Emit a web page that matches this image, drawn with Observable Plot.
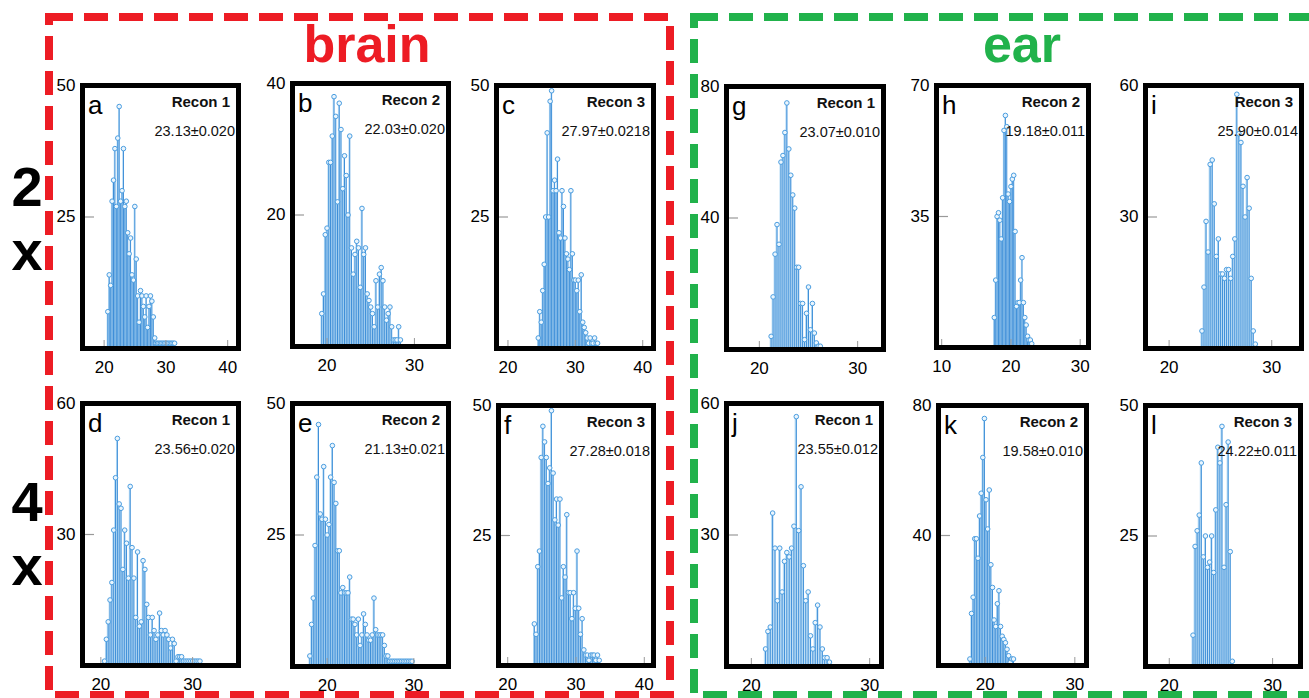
<!DOCTYPE html>
<html>
<head>
<meta charset="utf-8">
<script src="https://cdn.jsdelivr.net/npm/d3@7"></script>
<script src="https://cdn.jsdelivr.net/npm/@observablehq/plot@0.6"></script>
<style>
  html, body { margin: 0; padding: 0; background: #fff; }
  #root { position: relative; width: 1309px; height: 698px; overflow: hidden; background: #fff; font-family: "Liberation Sans", Arial, sans-serif; }
  #root svg.panel { position: absolute; overflow: visible; }
  #overlay { position: absolute; left: 0; top: 0; pointer-events: none; }
</style>
</head>
<body>
<div id="root"></div>
<script>
// ---------------- data ----------------
const panelLetters = ["a", "b", "c", "g", "h", "i", "d", "e", "f", "j", "k", "l"];
const reconLabels = ["Recon 1", "Recon 2", "Recon 3", "Recon 1", "Recon 2", "Recon 3",
                     "Recon 1", "Recon 2", "Recon 3", "Recon 1", "Recon 2", "Recon 3"];
const statLabels = ["23.13±0.020", "22.03±0.020", "27.97±0.0218", "23.07±0.010", "19.18±0.011", "25.90±0.014",
                    "23.56±0.020", "21.13±0.021", "27.28±0.018", "23.55±0.012", "19.58±0.010", "24.22±0.011"];
const yMaxTicks = [50, 40, 50, 80, 70, 60, 60, 50, 50, 60, 80, 50];
const xTickValues = [[20, 30, 40], [20, 30], [20, 30, 40], [20, 30], [10, 20, 30], [20, 30],
                     [20, 30], [20, 30], [20, 30, 40], [20, 30], [20, 30], [20, 30]];
const xDomains = [[16.5, 41.75], [16.05, 33.9], [18.3, 41.6], [16.66, 32.63], [9.25, 31.2], [17.7, 32.9],
                  [18.0, 35.0], [16.0, 34.0], [18.65, 41.35], [17.9, 31.0], [14.8, 31.3], [17.7, 32.7]];
const binStarts = [20.6, 19.4, 24.5, 21.2, 17.6, 23.2, 20.4, 18.0, 23.9, 21.2, 18.3, 22.3];
const binWidths = [0.23, 0.2, 0.22, 0.2, 0.2, 0.2, 0.2, 0.2, 0.25, 0.2, 0.18, 0.2];

const countsA = [7,14,12,28,32,38,27,40,46,28,30,38,27,28,22,18,21,14,13,27,17,10,5,11,10,8,6,10,4,8,10,9,6,2,1,1,1,1,1,1,1,1,1,1,1,1,1,1];
const countsB = [5,8,17,18,28,28,32,38,35,22,37,33,24,29,26,20,32,15,11,14,16,15,9,21,14,15,8,7,6,5,3,10,6,11,12,10,6,4,5,6,3,1,1,1,3,1];
const countsC = [2,7,5,11,16,25,41,25,47,49,30,32,30,36,22,21,30,27,21,18,17,15,30,18,13,13,11,13,7,14,5,4,3,2,1,2,1,1,2,1,1];
const countsG = [4,16,29,38,32,57,59,66,75,61,53,47,43,25,25,14,14,3,11,19,6,14,5,2,1,1];
const countsH = [8,18,35,36,34,29,40,58,62,59,41,39,43,45,46,31,11,12,12,18,24,12,8,6,3,2,2,1];
const countsI = [4,14,29,22,42,43,33,21,25,17,17,16,18,18,16,21,25,58,49,47,37,30,39,32,16,4,1];
const countsD = [1,6,10,15,19,31,43,52,37,36,22,31,28,20,41,27,20,11,26,9,10,24,22,14,11,7,11,8,6,7,12,8,7,8,7,6,4,6,5,1,2,2,2,1,1,1,1,1,1,1,1,1,1];
const countsE = [2,8,13,23,36,46,29,28,38,28,25,27,36,42,35,31,22,22,14,15,14,14,14,17,9,9,8,6,9,4,6,10,8,6,5,5,6,13,7,6,6,6,6,4,2,2,1,1,1,1,1,1,1,1,1,1,1,1,1,1];
const countsF = [8,6,19,22,40,46,43,40,35,38,49,37,28,32,27,32,13,19,17,29,14,14,9,14,11,22,11,6,9,3,2,2,1,2,2,2,1,2,1];
const countsJ = [4,8,9,35,27,15,27,17,24,26,25,27,32,57,31,41,23,15,17,7,4,10,14,9,4,2,2,1];
const countsK = [2,16,21,39,39,33,46,53,64,76,51,42,54,31,24,14,12,19,23,12,9,8,7,5,3,1,2,2];
const countsL = [6,23,26,29,39,21,25,19,20,25,18,30,42,39,46,19,31,43,22,1];
const allCounts = [countsA, countsB, countsC, countsG, countsH, countsI, countsD, countsE, countsF, countsJ, countsK, countsL];

const groupTitles = ["brain", "ear"];
const rowLabels = [["2", "x"], ["4", "x"]];

// ---------------- layout (outer frame boxes, px) ----------------
const frames = [
  {left: 79, top: 82, w: 161, h: 268}, {left: 289, top: 80, w: 161, h: 268}, {left: 493, top: 82, w: 162, h: 268},
  {left: 723, top: 83, w: 162, h: 268}, {left: 933, top: 82, w: 157, h: 267}, {left: 1142, top: 82, w: 161, h: 268},
  {left: 79, top: 400, w: 161, h: 267}, {left: 289, top: 400, w: 161, h: 268}, {left: 495, top: 402, w: 160, h: 265},
  {left: 723, top: 400, w: 160, h: 268}, {left: 935, top: 402, w: 153, h: 265}, {left: 1142, top: 402, w: 160, h: 266}
];

const root = document.getElementById("root");
const RED = "#ed1c24", GREEN = "#21b24b";
const STEM = "#3f8fd8", FILL = "#b9dcf5", MARK = "#4a9de0";
const FONT = "Liberation Sans, Arial, sans-serif";

// ---------------- overlay: dashed boxes + big labels ----------------
const ov = d3.create("svg").attr("id", "overlay").attr("width", 1309).attr("height", 698);
ov.append("rect").attr("x", 49).attr("y", 17).attr("width", 621).attr("height", 678)
  .attr("fill", "none").attr("stroke", RED).attr("stroke-width", 8).attr("stroke-dasharray", "24 11");
ov.append("rect").attr("x", 694).attr("y", 17).attr("width", 640).attr("height", 678)
  .attr("fill", "none").attr("stroke", GREEN).attr("stroke-width", 8).attr("stroke-dasharray", "24 11");
ov.append("text").attr("x", 367).attr("y", 62).attr("text-anchor", "middle")
  .attr("font-family", FONT).attr("font-size", 52).attr("font-weight", "bold")
  .attr("fill", RED).text(groupTitles[0]);
ov.append("text").attr("x", 1022).attr("y", 62).attr("text-anchor", "middle")
  .attr("font-family", FONT).attr("font-size", 52).attr("font-weight", "bold")
  .attr("fill", GREEN).text(groupTitles[1]);
const rowY = [[206, 270], [521, 585]];
rowLabels.forEach((pair, r) => {
  pair.forEach((t, k) => {
    ov.append("text").attr("x", 27).attr("y", rowY[r][k]).attr("text-anchor", "middle")
      .attr("font-family", FONT).attr("font-size", 56).attr("font-weight", "bold")
      .attr("fill", "#000").text(t);
  });
});

// ---------------- panels ----------------
const mL = 36, mT = 6, mR = 6, mB = 36;
panelLetters.forEach((letter, k) => {
  const F = frames[k];
  const iw = F.w - 5, ih = F.h - 5;
  const start = binStarts[k], step = binWidths[k];
  const data = allCounts[k].map((c, i) => ({x: start + i * step, y: c}));
  const ymax = yMaxTicks[k];
  const plot = Plot.plot({
    width: iw + mL + mR,
    height: ih + mT + mB,
    marginLeft: mL, marginTop: mT, marginRight: mR, marginBottom: mB,
    x: {domain: xDomains[k], label: null},
    y: {domain: [0, ymax], label: null},
    style: {fontFamily: FONT, fontSize: "17px", color: "#000", background: "transparent", overflow: "visible"},
    marks: [
      Plot.rect(data, {x1: d => d.x - step / 2, x2: d => d.x + step / 2, y1: 0, y2: "y", fill: FILL}),
      Plot.ruleX(data, {x: "x", y1: 0, y2: "y", stroke: STEM, strokeWidth: 1}),
      Plot.dot(data, {x: "x", y: "y", r: 2.3, stroke: MARK, fill: "#eaf5fd", strokeWidth: 1}),
      Plot.tickY([ymax / 2], {y: d => d, stroke: "#999", strokeWidth: 1.2, insetRight: iw - 12}),
      Plot.tickX(xTickValues[k], {x: d => d, stroke: "#999", strokeWidth: 1, insetTop: ih - 8}),
      Plot.axisX(xTickValues[k], {tickSize: 0, tickPadding: 12, fontSize: 17, fill: "#000", tickFormat: d => String(d), label: null}),
      Plot.axisY([ymax / 2, ymax], {tickSize: 0, tickPadding: 7, fontSize: 17, fill: "#000", tickFormat: d => String(d), label: null}),
      Plot.frame({stroke: "#000", strokeWidth: 5}),
      Plot.text([letter], {text: d => d, frameAnchor: "top-left", textAnchor: "start", lineAnchor: "bottom", dx: 5.5, dy: 28, fontSize: 26, fill: "#000"}),
      Plot.text([reconLabels[k]], {text: d => d, frameAnchor: "top-right", textAnchor: "end", lineAnchor: "bottom", dx: -8.5, dy: 21, fontSize: 15, fontWeight: "bold", fill: "#111"}),
      Plot.text([statLabels[k]], {text: d => d, frameAnchor: "top-right", textAnchor: "end", lineAnchor: "bottom", dx: -3.5, dy: 50, fontSize: 14.5, fill: "#111"})
    ]
  });
  plot.classList.add("panel");
  plot.style.left = (F.left + 2.5 - mL) + "px";
  plot.style.top = (F.top + 2.5 - mT) + "px";
  root.appendChild(plot);
});
root.appendChild(ov.node());
</script>
</body>
</html>
